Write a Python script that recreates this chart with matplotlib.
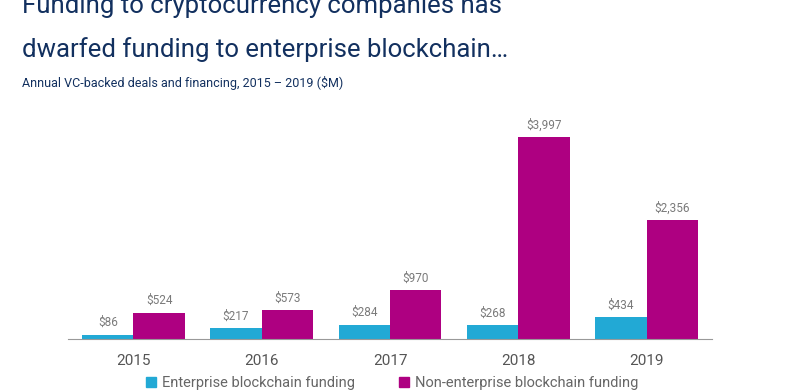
import numpy as np
import matplotlib
matplotlib.use("Agg")
import matplotlib.pyplot as plt
from matplotlib.patches import Rectangle

plt.rcParams["font.family"] = ["Roboto", "DejaVu Sans"]

years = ["2015", "2016", "2017", "2018", "2019"]
enterprise = [86, 217, 284, 268, 434]
non_enterprise = [524, 573, 970, 3997, 2356]
series_names = ["Enterprise blockchain funding", "Non-enterprise blockchain funding"]

blue = "#22A9D5"
magenta = "#AE0081"
navy = "#12305F"
grey = "#7A7A7A"

fig = plt.figure(figsize=(8, 3.92), dpi=100)
# title is cropped at the top in the original screenshot
fig.text(0.028, 0.967, "Funding to cryptocurrency companies has", color=navy,
         fontsize=18.5, va="baseline", ha="left")
fig.text(0.028, 0.855, "dwarfed funding to enterprise blockchain\u2026", color=navy,
         fontsize=18.5, va="baseline", ha="left")
fig.text(0.028, 0.777, "Annual VC-backed deals and financing, 2015 \u2013 2019 ($M)",
         color=navy, fontsize=9, va="baseline", ha="left")

ax = fig.add_axes([0.085, 0.1352, 0.805, 0.6097])
x = np.arange(len(years))
w = 0.4
b1 = ax.bar(x - w / 2, enterprise, w, color=blue)
b2 = ax.bar(x + w / 2, non_enterprise, w, color=magenta)
for bars, vals in ((b1, enterprise), (b2, non_enterprise)):
    for bar, v in zip(bars, vals):
        ax.annotate(f"${v:,}", (bar.get_x() + bar.get_width() / 2, v),
                    xytext=(0, 4), textcoords="offset points",
                    ha="center", va="bottom", fontsize=8.5, color=grey)

ax.set_xlim(-0.51, 4.51)
ax.set_ylim(0, 4733)
ax.set_xticks(x)
ax.set_xticklabels(years, fontsize=11, color="#555555")
ax.tick_params(axis="x", length=0, pad=11)
ax.set_yticks([])
for s in ["top", "right", "left"]:
    ax.spines[s].set_visible(False)
ax.spines["bottom"].set_color("#999999")

handles = [Rectangle((0, 0), 1, 1, color=blue), Rectangle((0, 0), 1, 1, color=magenta)]
fig.legend(handles, series_names, loc="center", bbox_to_anchor=(0.49, 0.022),
           ncol=2, frameon=False, fontsize=10.5, labelcolor="#666666",
           handlelength=0.7, handleheight=0.7, handletextpad=0.4, columnspacing=3.0)

fig.savefig("out.png", dpi=100)
